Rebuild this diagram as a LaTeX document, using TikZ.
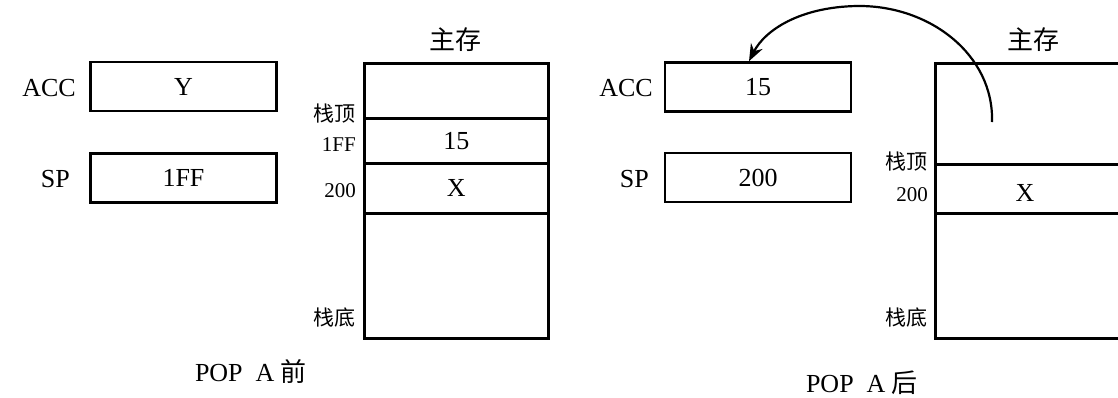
\documentclass[tikz,border=0pt]{standalone}
\usepackage{fontspec}
\setmainfont{Liberation Serif}
\newfontfamily\cjk{Noto Sans CJK SC}
\usetikzlibrary{arrows.meta}
\begin{document}
\begin{tikzpicture}[x=1pt,y=-1pt,
  reg/.style={draw,line width=2.6pt,minimum width=186pt,minimum height=49pt,inner sep=0pt,font=\fontsize{26}{26}\selectfont},
  cell/.style={draw,line width=2.6pt,minimum width=184pt,inner sep=0pt,anchor=north west,font=\fontsize{26}{26}\selectfont},
  lbl/.style={anchor=east,inner sep=0pt,font=\fontsize{26}{26}\selectfont},
  side/.style={anchor=east,inner sep=0pt,font=\fontsize{21}{21}\selectfont},
  ttl/.style={inner sep=0pt,font=\fontsize{26}{26}\selectfont}]
\useasboundingbox (0,0) rectangle (1118,397);
\clip (0,0) rectangle (1118,397);
% ---------- left panel ----------
\node[reg] (acc1) at (183.5,86.5) {Y};
\node[reg] (sp1) at (183.5,178) {1FF};
\node[lbl] (acc1l) at (76,88) {ACC};
\node[lbl] (sp1l) at (70,179) {SP};
\node[cell,minimum height=55pt] (m1a) at (363,62) {};
\node[cell,minimum height=45pt] (m1b) at (363,117) {15};
\node[cell,minimum height=50pt] (m1c) at (363,162) {X};
\node[cell,minimum height=125pt] (m1d) at (363,212) {};
\node[ttl] (t1) at (455,40) {\cjk 主存};
\node[side] (l1a) at (356,114) {\cjk 栈顶};
\node[side] (l1b) at (356,145) {1FF};
\node[side] (l1c) at (356,191) {200};
\node[side] (l1d) at (356,318) {\cjk 栈底};
\node[ttl] (c1) at (251,372) {POP\ \ A {\cjk 前}};
% ---------- right panel ----------
\node[reg] (acc2) at (758,87) {15};
\node[reg] (sp2) at (758,177.5) {200};
\node[lbl] (acc2l) at (653,88) {ACC};
\node[lbl] (sp2l) at (649,179) {SP};
\node[cell,minimum height=101pt] (m2a) at (934,62) {};
\node[cell,minimum height=49pt] (m2b) at (934,163) {};
\node[cell,minimum height=125pt] (m2c) at (934,212) {};
\node[font=\fontsize{26}{26}\selectfont,inner sep=0pt] (x2) at (1025,193) {X};
\node[ttl] (t2) at (1033,40) {\cjk 主存};
\node[side] (l2a) at (928,162) {\cjk 栈顶};
\node[side] (l2b) at (928,195) {200};
\node[side] (l2d) at (928,318) {\cjk 栈底};
\node[ttl] (c2) at (862,383) {POP\ \ A {\cjk 后}};
% ---------- arrow ----------
\coordinate (s) at (992,122);
\draw[line width=2.2pt,-{Stealth[length=17pt,width=13pt]}]
  (s) .. controls (994,55) and (930,5) .. (857,6)
      .. controls (800,7) and (765,30) .. ([xshift=-9pt]acc2.north);
\end{tikzpicture}
\end{document}
